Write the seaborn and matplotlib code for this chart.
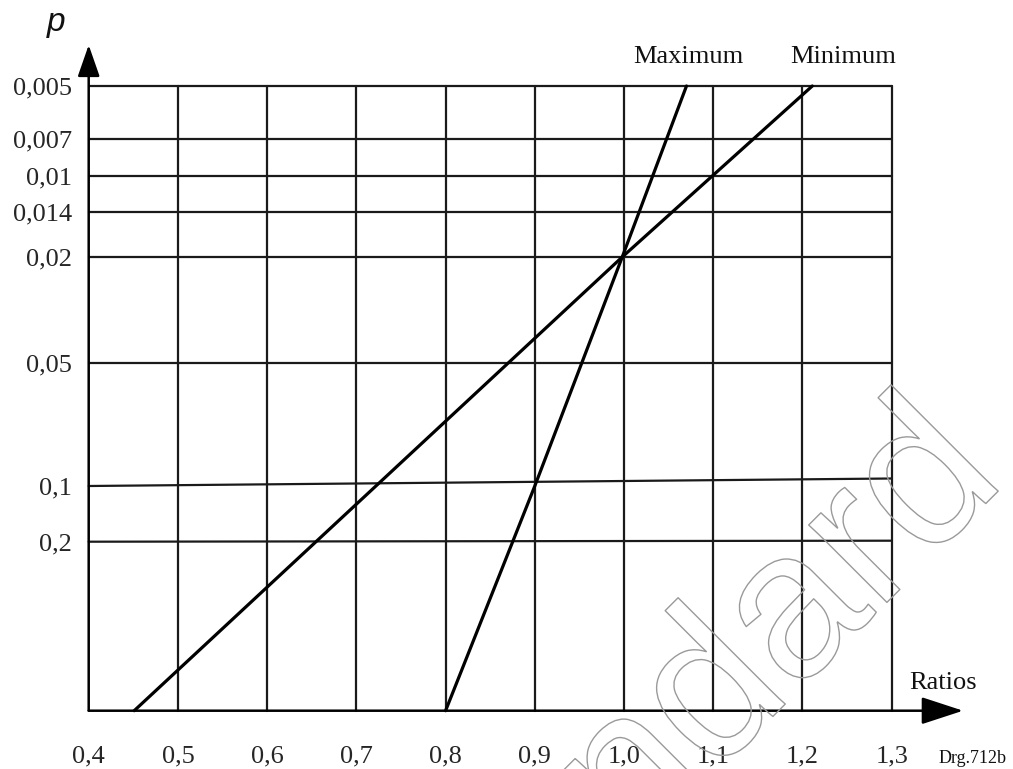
import matplotlib
matplotlib.use("Agg")
import matplotlib.pyplot as plt
import matplotlib.patheffects as pe
import pandas as pd
import seaborn as sns

# --- Data ---
# Ratios axis
ratio_ticks = [0.4, 0.5, 0.6, 0.7, 0.8, 0.9, 1.0, 1.1, 1.2, 1.3]
ratio_labels = ["0,4", "0,5", "0,6", "0,7", "0,8", "0,9", "1,0", "1,1", "1,2", "1,3"]

# p axis is a hand-drawn scale: height of each p rule above the Ratios axis
p_labels = ["0,005", "0,007", "0,01", "0,014", "0,02", "0,05", "0,1", "0,2"]
p_pos = [6.247, 5.717, 5.347, 4.987, 4.537, 3.474, 2.247, 1.690]
# height of the same rules at the 1,3 end (the 0,1 rule is drawn slightly tilted)
p_pos_right = [6.247, 5.717, 5.347, 4.987, 4.537, 3.474, 2.322, 1.700]

# the two limit lines
max_ratio = [0.800, 0.900, 0.998, 1.070]
max_pos = [0.0, 2.247, 4.537, 6.247]
min_ratio = [0.451, 0.998, 1.211]
min_pos = [0.0, 4.537, 6.247]

sns.set_theme(style="white")
plt.rcParams["font.family"] = ["Liberation Serif", "DejaVu Serif"]
plt.rcParams["text.color"] = "#111111"

ink = "#1a1a1a"

fig = plt.figure(figsize=(10.13, 7.69), dpi=100)
ax = fig.add_axes([0.08756, 0.07581, 0.79269, 0.81236])
ax.set_xlim(ratio_ticks[0], ratio_ticks[-1])
ax.set_ylim(0, p_pos[0])
for s in ax.spines.values():
    s.set_visible(False)

# grid rules
top = p_pos[0]
for x in ratio_ticks[1:]:
    ax.plot([x, x], [0, top], color=ink, lw=1.6, clip_on=False, zorder=1)
for yl, yr in zip(p_pos, p_pos_right):
    ax.plot([ratio_ticks[0], ratio_ticks[-1]], [yl, yr], color=ink, lw=1.6,
            clip_on=False, zorder=1)

# axes with arrow heads
ax.annotate("", xy=(1.380, 0), xytext=(ratio_ticks[0], 0),
            arrowprops=dict(arrowstyle="-|>,head_length=26,head_width=8.5",
                            mutation_scale=1, color="black", lw=1.8,
                            shrinkA=0, shrinkB=0), annotation_clip=False)
ax.annotate("", xy=(ratio_ticks[0], 6.657), xytext=(ratio_ticks[0], 0),
            arrowprops=dict(arrowstyle="-|>,head_length=19.5,head_width=6.8",
                            mutation_scale=1, color="black", lw=1.8,
                            shrinkA=0, shrinkB=0), annotation_clip=False)

# limit lines
lines = pd.DataFrame({
    "ratio": max_ratio + min_ratio,
    "pos": max_pos + min_pos,
    "curve": ["Maximum"] * len(max_ratio) + ["Minimum"] * len(min_ratio),
})
sns.lineplot(data=lines, x="ratio", y="pos", hue="curve", palette=["black", "black"],
             sort=False, estimator=None, legend=False, lw=2.3, ax=ax,
             clip_on=False, zorder=3)

ax.annotate("Maximum", xy=(max_ratio[-1], max_pos[-1]), xytext=(1, 21),
            textcoords="offset points", ha="center", va="center", fontsize=19)
ax.annotate("Minimum", xy=(min_ratio[-1], min_pos[-1]), xytext=(22, 21),
            textcoords="offset points", ha="center", va="center", fontsize=19)

# tick labels
ax.set_xticks(ratio_ticks, ratio_labels)
ax.set_yticks(p_pos, p_labels)
ax.tick_params(axis="x", length=0, pad=25, labelsize=19)
ax.tick_params(axis="y", length=0, pad=12, labelsize=19)
ax.set_xlabel("")
ax.set_ylabel("")
ax.grid(False)

fig.text(0.0553, 0.9597, "p", ha="center", va="baseline", fontsize=24,
         family="Liberation Sans", style="italic")
fig.text(0.9309, 0.1118, "Ratios", ha="center", va="center", fontsize=19)
fig.text(0.9605, 0.0078, "Drg.712b", ha="center", va="baseline", fontsize=13)

# watermark
fig.text(0.995, 0.374, "Standard", ha="right", va="baseline", rotation=45,
         rotation_mode="anchor", fontsize=150,
         family=["Liberation Sans Narrow", "Liberation Sans"],
         color="none",
         path_effects=[pe.withStroke(linewidth=1.0, foreground="#9a9a9a")])

fig.savefig("out.png", dpi=100)
